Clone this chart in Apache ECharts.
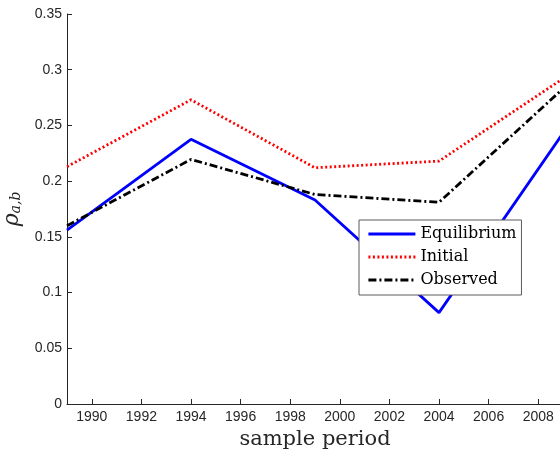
<!DOCTYPE html>
<html>
<head>
<meta charset="utf-8">
<script src="https://cdn.jsdelivr.net/npm/echarts@6/dist/echarts.min.js"></script>
<style>html,body{margin:0;padding:0;background:#fff}#c{width:560px;height:453px}</style>
</head>
<body>
<div id="c"></div>
<script>
var years = [1989, 1994, 1999, 2004, 2009];
var equilibrium = [0.156, 0.2375, 0.183, 0.082, 0.243];
var initial = [0.213, 0.273, 0.212, 0.218, 0.292];
var observed = [0.160, 0.2195, 0.188, 0.181, 0.283];
var xTicks = [1990, 1992, 1994, 1996, 1998, 2000, 2002, 2004, 2006, 2008];

function pairs(v){ return years.map(function(y,i){ return [y, v[i]]; }); }

var chart = echarts.init(document.getElementById('c'));
var axisColor = '#262626';
chart.setOption({
  animation: false,
  grid: { left: 67, top: 14, bottom: 49, right: -3, containLabel: false, outerBoundsMode: 'none' },
  xAxis: {
    type: 'value', min: 1989, max: 2009,
    name: 'sample period', nameLocation: 'middle', nameGap: 21,
    nameTextStyle: { fontFamily: 'DejaVu Serif', fontSize: 21, color: axisColor, verticalAlign: 'top' },
    axisLine: { show: true, lineStyle: { color: axisColor, width: 1 } },
    axisTick: { show: true, inside: true, length: 5, customValues: xTicks, lineStyle: { color: axisColor } },
    axisLabel: { customValues: xTicks, fontFamily: 'Liberation Sans', fontSize: 14, color: axisColor, margin: 6,
      formatter: function(v){ return String(v); } },
    splitLine: { show: false }
  },
  yAxis: {
    type: 'value', min: 0, max: 0.35, interval: 0.05,
    name: '{r|ρ}{s|a,b}', nameLocation: 'middle', nameGap: 38, nameRotate: 90,
    nameTextStyle: { color: axisColor, rich: {
      r: { fontFamily: 'DejaVu Serif', fontStyle: 'italic', fontSize: 22, color: axisColor },
      s: { fontFamily: 'DejaVu Serif', fontStyle: 'italic', fontSize: 14, color: axisColor, padding: [10,0,0,0] }
    } },
    axisLine: { show: true, lineStyle: { color: axisColor, width: 1 } },
    axisTick: { show: true, inside: true, length: 5, lineStyle: { color: axisColor } },
    axisLabel: { fontFamily: 'Liberation Sans', fontSize: 14, color: axisColor, margin: 5,
      formatter: function(v){ return String(Math.round(v*100)/100); } },
    splitLine: { show: false }
  },
  legend: {
    orient: 'vertical', left: 359, top: 220,
    padding: [6, 5, 7, 8], itemGap: 7, itemWidth: 47, itemHeight: 14,
    backgroundColor: '#fff', borderColor: '#5a5a5a', borderWidth: 1,
    itemStyle: { opacity: 0, color: 'rgba(0,0,0,0)', borderWidth: 0 },
    lineStyle: { width: 2.8 },
    textStyle: { fontFamily: 'DejaVu Serif', fontSize: 16, color: '#000' },
    data: ['Equilibrium', 'Initial', 'Observed']
  },
  series: [
    { name: 'Equilibrium', type: 'line', data: pairs(equilibrium), symbol: 'none',
      lineStyle: { color: '#0000ff', width: 2.8 }, itemStyle: { color: '#0000ff' } },
    { name: 'Initial', type: 'line', data: pairs(initial), symbol: 'none',
      lineStyle: { color: '#ff0000', width: 2.8, type: [2, 2.5] }, itemStyle: { color: '#ff0000' } },
    { name: 'Observed', type: 'line', data: pairs(observed), symbol: 'none',
      lineStyle: { color: '#000000', width: 2.8, type: [8, 3, 2, 3] }, itemStyle: { color: '#000000' } }
  ]
});
</script>
</body>
</html>
